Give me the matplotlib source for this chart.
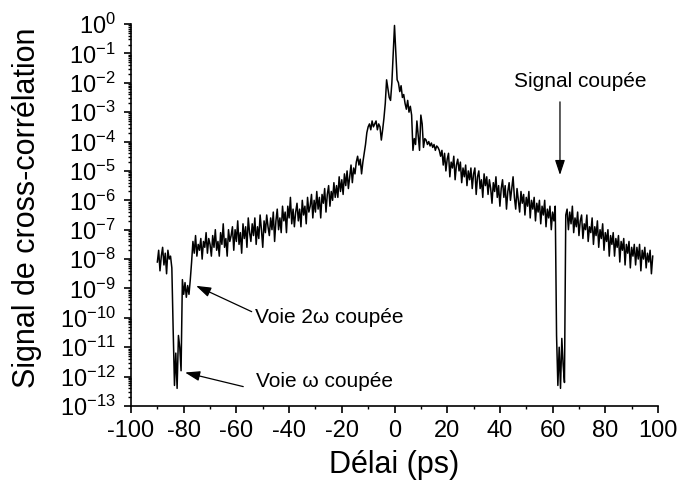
import numpy as np
import matplotlib
matplotlib.use("Agg")
import matplotlib.pyplot as plt
from matplotlib.ticker import NullFormatter, MultipleLocator

plt.rcParams['font.family'] = ['Liberation Sans', 'DejaVu Sans']
plt.rcParams['mathtext.fontset'] = 'custom'
plt.rcParams['mathtext.rm'] = 'Liberation Sans'
plt.rcParams['mathtext.it'] = 'Liberation Sans:italic'
plt.rcParams['axes.unicode_minus'] = False

# delay grid (ps), one sample every 0.5 ps
delay = np.arange(-90.0, 98.25, 0.5)

# log10 of the signal
seg_left = [-8.1, -7.7, -8.4, -7.9, -7.6, -8.2, -7.8, -8.5, -7.7, -8.0, -7.9, -8.3]   # -90 .. -84.5
seg_cut_w = [-10.4, -12.3, -11.2, -12.4, -10.6, -11.0, -11.8]                       # -84 .. -81
seg_cut_2w = [-8.7, -9.2, -8.8, -9.3, -8.9, -9.2, -8.7]                              # -80.5 .. -77.5
seg_rise = [
    -8.1, -7.4, -7.8, -7.2, -7.9, -7.5, -7.7, -7.3, -8.0, -7.4,
    -7.6, -7.1, -7.8, -7.3, -7.5, -7.9, -7.2, -7.6, -7.0, -7.7,
    -7.4, -7.9, -7.1, -7.5, -6.8, -7.6, -7.3, -7.9, -7.0, -7.4,
    -7.2, -6.9, -7.7, -7.0, -7.4, -6.7, -7.5, -7.1, -7.8, -6.8,
    -7.3, -6.9, -7.6, -6.6, -7.1, -7.4, -6.8, -7.2, -6.6, -7.5,
    -6.9, -7.3, -6.5, -7.0, -7.6, -6.7, -7.1, -6.5, -6.9, -7.2,
    -6.6, -7.0, -6.4, -7.4, -6.7, -6.3, -7.0, -6.6, -7.1, -6.2,
    -6.7, -6.4, -7.1, -6.2, -6.6, -5.9, -6.8, -6.3, -6.9, -6.4,
    -6.1, -6.7, -6.3, -6.9, -6.0, -6.5, -6.2, -6.8, -5.9, -6.4,
    -6.2, -5.8, -6.6, -6.0, -6.4, -5.7, -6.3, -5.9, -6.6, -5.8,
    -6.1, -5.6, -6.4, -5.8, -5.5, -6.2, -5.7, -6.0, -5.4, -5.9,
    -5.5, -5.9, -5.2, -5.7, -5.3, -5.8, -5.1, -5.5, -5.0, -5.6,
    -5.2, -4.8, -5.4, -4.9, -5.1,
]                                                                                     # -77 .. -15
seg_shoulder = [-4.7, -4.5, -4.8, -4.6, -5.1, -4.7, -4.4, -4.1, -3.7, -3.5,
                -3.4, -3.6, -3.3, -3.5, -3.4, -3.3, -3.6, -3.4, -3.5, -3.95,
                -3.6, -3.2, -2.7]                                                     # -14.5 .. -3.5
seg_peak = [-1.9, -2.2, -2.5, -2.6, -2.0, -1.0, -0.05, -1.0, -1.9, -2.0,
            -2.3, -2.1, -2.5, -2.4]                                                   # -3 .. 3.5
seg_decay = [
    -2.7, -2.9, -2.6, -3.0, -2.8, -3.1, -4.3, -3.9, -4.1, -3.3,
    -3.8, -4.3, -3.1, -3.4, -4.2, -3.9,
    -3.95, -4.1, -4.0, -4.15, -4.05, -4.2, -4.1, -4.3, -4.15, -4.2, -4.3,
    -4.5, -4.3, -4.8, -4.4, -5.0, -4.6, -4.4, -5.2, -4.7, -4.9,
    -4.5, -5.3, -4.8, -4.6, -5.0, -4.7, -5.4, -4.9,
    -5.2, -4.8, -5.5, -5.0, -5.3, -4.9, -5.6, -5.1, -4.9, -5.8,
    -5.2, -5.0, -5.6, -5.3, -5.9, -5.1, -5.5, -5.2,
    -5.8, -5.3, -5.6, -6.1, -5.4, -5.7, -5.2, -5.9, -5.5, -6.2,
    -5.6, -5.3, -5.9, -5.5, -6.3, -5.7, -5.4, -6.0, -5.6, -5.2,
    -5.9, -6.3, -5.6, -6.0, -6.4, -5.7, -6.1, -5.8, -6.5, -5.9,
    -6.2, -5.7, -6.6, -6.0, -6.3, -5.9, -6.7, -6.1, -6.4, -6.0,
    -6.8, -6.2, -6.5, -6.0, -6.9, -6.3, -6.6, -6.2, -7.0, -6.4,
    -6.7, -6.2,
]                                                                                     # 4 .. 61
seg_cut_sig = [-10.6, -12.3, -11.0, -12.4, -10.7, -11.6, -12.2]                      # 61.5 .. 64.5
seg_tail = [
    -6.5, -6.3, -7.0, -6.4, -6.8, -6.2, -7.1, -6.6, -6.9, -6.4,
    -7.2, -6.7, -6.5, -7.3, -6.8, -7.0, -6.5, -7.4, -6.9, -7.1,
    -6.6, -7.5, -6.9, -7.2, -6.7, -7.6, -7.0, -7.3, -6.8, -7.7,
    -7.1, -7.4, -7.0, -7.9, -7.2, -7.5, -7.1, -7.9, -7.3, -7.6,
    -7.2, -8.1, -7.4, -7.7, -7.3, -8.2, -7.5, -7.8, -7.4, -8.3,
    -7.6, -7.9, -7.5, -8.2, -7.6, -8.0, -7.5, -8.4, -7.7, -8.0,
    -7.6, -8.3, -7.8, -8.1, -7.7, -8.5, -7.9,
]                                                                                     # 65 .. 98

log_signal = np.array(seg_left + seg_cut_w + seg_cut_2w + seg_rise + seg_shoulder
                      + seg_peak + seg_decay + seg_cut_sig + seg_tail)
signal = 10.0 ** log_signal

xticks = np.arange(-100, 101, 20)
decades = np.arange(-13, 1)

# annotations: label text, label position, arrow tail, arrow tip (delay, log10 signal)
notes = [
    ('Signal coupée', (70.4, -1.97), (62.8, -2.65), (62.8, -5.14)),
    ('Voie 2ω coupée', (-52.9, -10.0), (-54.2, -9.79), (-75.3, -8.91)),
    ('Voie ω coupée', (-52.7, -12.17), (-57.4, -12.34), (-79.5, -11.86)),
]

fig = plt.figure(figsize=(6.8, 4.9), dpi=100)
ax = fig.add_axes([131 / 680, 84 / 490, 527 / 680, 382 / 490])

ax.plot(delay, signal, color='black', lw=1.1)

ax.set_yscale('log')
ax.set_xlim(-100, 100)
ax.set_ylim(1e-13, 1e0)
ax.set_xticks(xticks)
ax.set_xticklabels([str(t) for t in xticks])
ax.xaxis.set_minor_locator(MultipleLocator(10))
ax.set_yticks(10.0 ** decades)
ax.set_yticklabels(['$\\mathdefault{10^{%d}}$' % d for d in decades])
minor = [m * 10.0 ** d for d in decades[:-1] for m in range(2, 10)]
ax.set_yticks(minor, minor=True)
ax.yaxis.set_minor_formatter(NullFormatter())

for side in ['top', 'right']:
    ax.spines[side].set_visible(False)
for side in ['left', 'bottom']:
    ax.spines[side].set_linewidth(1.2)

ax.tick_params(which='major', direction='out', length=5, width=1.2, labelsize=17)
ax.tick_params(which='minor', direction='out', length=2.5, width=1.0)
ax.tick_params(axis='y', pad=6)
ax.tick_params(axis='x', pad=5)

ax.set_xlabel('Délai (ps)', fontsize=22, va='center')
ax.xaxis.set_label_coords(0.5, -0.155)
ax.set_ylabel('Signal de cross-corrélation', fontsize=22, va='center')
ax.yaxis.set_label_coords(-0.197, 0.52)

arrow = dict(arrowstyle='-|>,head_length=0.9,head_width=0.3', color='black',
             lw=0.9, shrinkA=0, shrinkB=0)
for i, (label, pos, tail, tip) in enumerate(notes):
    ha = 'center' if i == 0 else 'left'
    ax.text(pos[0], 10 ** pos[1], label, ha=ha, va='center', fontsize=15)
    ax.annotate('', xy=(tip[0], 10 ** tip[1]), xytext=(tail[0], 10 ** tail[1]),
                arrowprops=arrow)

fig.savefig('out.png', dpi=100)
